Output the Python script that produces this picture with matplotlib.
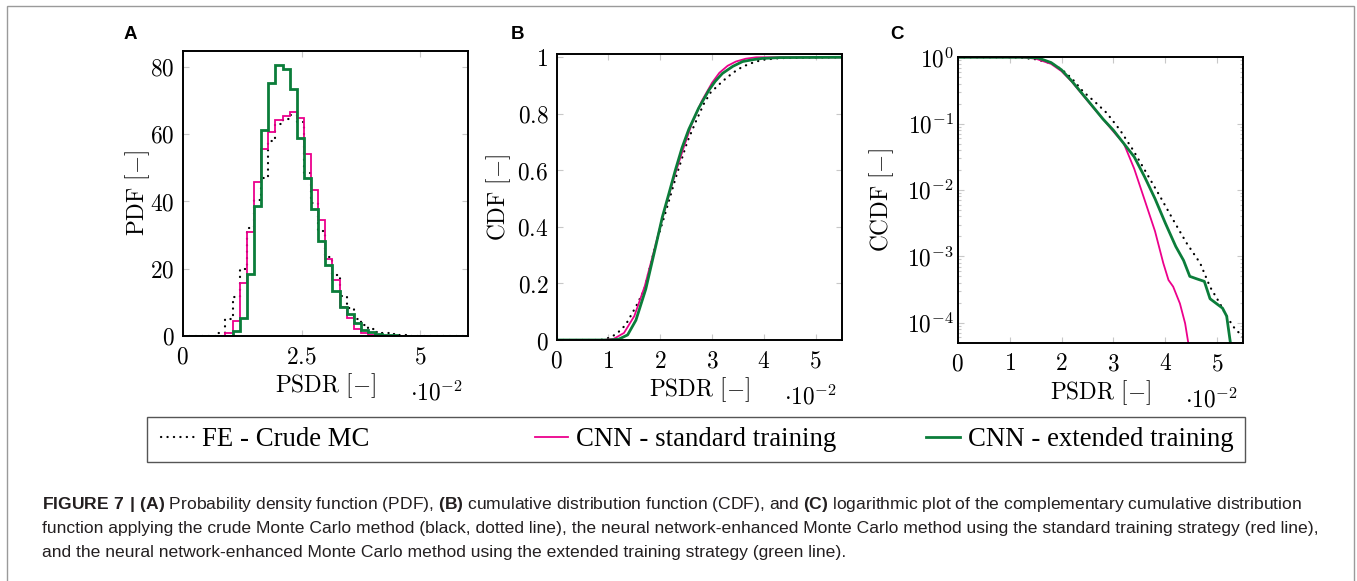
import numpy as np
import matplotlib.pyplot as plt
from matplotlib.patches import Rectangle

plt.rcParams['mathtext.fontset'] = 'cm'
plt.rcParams['mathtext.rm'] = 'Liberation Sans'
plt.rcParams['mathtext.bf'] = 'Liberation Sans:bold'

# ---- data (PSDR in units of 1e-2) ----
# histogram bins 0 .. 6, width 0.15
bin_edges = np.arange(41) * 0.15
pdf_fe = [0, 0, 0, 0, 0, 1.0, 5.0, 11.5, 19.8, 32.0,
          40.5, 47.0, 58.0, 62.8, 64.3, 65.5, 63.5, 48.5, 39.5, 31.3,
          23.6, 18.1, 12.0, 8.2, 5.0, 3.2, 2.0, 1.3, 1.0, 0.6,
          0.4, 0.2, 0.1, 0, 0, 0, 0, 0, 0, 0]
pdf_std = [0, 0, 0, 0, 0, 0, 0.8, 4.5, 15.6, 30.8,
           45.8, 55.5, 60.5, 64.2, 65.4, 66.5, 64.6, 54.0, 43.4, 34.5,
           22.8, 16.6, 8.5, 5.4, 2.0, 0.8, 0.3, 0, 0, 0,
           0, 0, 0, 0, 0, 0, 0, 0, 0, 0]
pdf_ext = [0, 0, 0, 0, 0, 0, 0, 1.5, 5.4, 18.3,
           38.7, 61.2, 75.0, 80.5, 79.3, 73.3, 58.9, 46.8, 37.6, 28.2,
           21.1, 13.4, 8.7, 6.4, 3.8, 1.8, 1.1, 0.7, 0.4, 0.2,
           0, 0, 0, 0, 0, 0, 0, 0, 0, 0]

cdf_fe_x = [0, 0.85, 1.04, 1.17, 1.33, 1.53, 1.69, 1.9, 2.1, 2.3, 2.52, 2.68,
            2.84, 2.97, 3.2, 3.4, 3.59, 3.8, 3.97, 4.3, 4.8, 5.5]
cdf_fe = [0, 0, 0.009, 0.024, 0.053, 0.118, 0.177, 0.33, 0.45, 0.575, 0.70, 0.77,
          0.835, 0.875, 0.915, 0.945, 0.967, 0.982, 0.991, 0.997, 0.999, 1.0]
cdf_std_x = [0, 0.9, 1.1, 1.3, 1.5, 1.7, 1.9, 2.04, 2.17, 2.3, 2.45, 2.6, 2.8,
             3.0, 3.14, 3.3, 3.46, 3.65, 3.85, 5.5]
cdf_std = [0, 0, 0.004, 0.025, 0.085, 0.19, 0.33, 0.43, 0.515, 0.595, 0.68, 0.76,
           0.845, 0.91, 0.945, 0.97, 0.985, 0.995, 1.0, 1.0]
cdf_ext_x = [0, 1.0, 1.2, 1.37, 1.53, 1.72, 1.91, 2.04, 2.17, 2.29, 2.42, 2.55,
             2.74, 2.94, 3.06, 3.2, 3.4, 3.59, 3.8, 3.97, 4.3, 5.5]
cdf_ext = [0, 0, 0.003, 0.018, 0.07, 0.18, 0.33, 0.435, 0.52, 0.6, 0.68, 0.745,
           0.82, 0.884, 0.915, 0.943, 0.968, 0.985, 0.992, 0.996, 0.999, 1.0]

ccdf_fe_x = [0, 1.0, 1.2, 1.5, 1.8, 2.0, 2.2, 2.42, 2.64, 2.87, 3.13, 3.38, 3.64,
             3.9, 4.15, 4.41, 4.67, 4.86, 5.05, 5.18, 5.31, 5.5]
ccdf_fe = [1.0, 1.0, 0.99, 0.933, 0.813, 0.661, 0.479, 0.302, 0.214, 0.145, 0.0794,
           0.0398, 0.0178, 0.00794, 0.00355, 0.00158, 0.00079, 0.000347, 0.000195,
           0.000126, 0.000087, 0.00006]
ccdf_std_x = [0, 1.2, 1.5, 1.8, 2.0, 2.2, 2.4, 2.6, 2.8, 3.0, 3.2, 3.4, 3.6, 3.8,
              3.96, 4.06, 4.15, 4.28, 4.38, 4.45]
ccdf_std = [1.0, 1.0, 0.955, 0.794, 0.617, 0.427, 0.275, 0.178, 0.117, 0.0759,
            0.0501, 0.0209, 0.0071, 0.0024, 0.00079, 0.00044, 0.00035, 0.000195,
            0.000098, 0.000045]
ccdf_ext_x = [0, 1.3, 1.55, 1.8, 2.0, 2.2, 2.4, 2.6, 2.8, 3.0, 3.2, 3.4, 3.6, 3.8,
              4.0, 4.2, 4.35, 4.47, 4.6, 4.75, 4.86, 5.0, 5.1, 5.18, 5.26]
ccdf_ext = [1.0, 1.0, 0.977, 0.832, 0.646, 0.437, 0.282, 0.182, 0.117, 0.0794,
            0.0501, 0.0316, 0.0158, 0.00741, 0.00316, 0.00141, 0.00087, 0.0005,
            0.00046, 0.00042, 0.00023, 0.00019, 0.000166, 0.000126, 0.000045]

labels = ['FE - Crude MC', 'CNN - standard training', 'CNN - extended training']
c_std = '#ec008c'
c_ext = '#0b7d3a'
dot = dict(color='black', lw=1.6, linestyle=(0, (0.1, 2.8)), dash_capstyle='round')
std = dict(color=c_std, lw=1.3)
ext = dict(color=c_ext, lw=2.0)

fs = 16.8

fig = plt.figure(figsize=(13.57, 5.81), dpi=100)

def style(ax):
    for s in ax.spines.values():
        s.set_linewidth(1.4)
    ax.tick_params(which='both', direction='in', color='#c8c8c8', top=True, right=True,
                   labelsize=fs, width=0.8)
    ax.tick_params(which='major', length=4)
    ax.tick_params(which='minor', length=2.5)
    ax.tick_params(axis='x', pad=7)
    ax.tick_params(axis='y', pad=6)
    ax.text(0.89, -0.2, r'$\cdot 10^{-2}$', transform=ax.transAxes, fontsize=fs,
            ha='center', va='center')
    ax.text(0.5, -0.175, r'$\mathrm{PSDR}\ [-]$', transform=ax.transAxes, fontsize=fs,
            ha='center', va='center')

# ---- A: PDF ----
axA = fig.add_axes([0.1346, 0.4217, 0.2103, 0.491])
axA.stairs(pdf_fe, bin_edges, color='black', lw=1.6, linestyle=(0, (0.1, 2.8)),
           capstyle='round')
axA.stairs(pdf_std, bin_edges, **std)
axA.stairs(pdf_ext, bin_edges, **ext)
axA.set_xlim(0, 6)
axA.set_ylim(0, 84.7)
axA.set_xticks([0, 2.5, 5], [r'$0$', r'$2.5$', r'$5$'])
axA.set_yticks([0, 20, 40, 60, 80], [r'$%d$' % v for v in [0, 20, 40, 60, 80]])
style(axA)
axA.text(-0.158, 0.5, r'$\mathrm{PDF}\ [-]$', transform=axA.transAxes, fontsize=fs,
         rotation=90, ha='center', va='center')

# ---- B: CDF ----
axB = fig.add_axes([0.4102, 0.4148, 0.2100, 0.4917])
lfe, = axB.plot(cdf_fe_x, cdf_fe, **dot)
lstd, = axB.plot(cdf_std_x, cdf_std, **std)
lext, = axB.plot(cdf_ext_x, cdf_ext, **ext)
axB.set_xlim(0, 5.5)
axB.set_ylim(0, 1.0105)
axB.set_xticks(range(6), [r'$%d$' % v for v in range(6)])
yt = [0, 0.2, 0.4, 0.6, 0.8, 1]
axB.set_yticks(yt, [r'$0$', r'$0.2$', r'$0.4$', r'$0.6$', r'$0.8$', r'$1$'])
style(axB)
axB.text(-0.205, 0.5, r'$\mathrm{CDF}\ [-]$', transform=axB.transAxes, fontsize=fs,
         rotation=90, ha='center', va='center')

# ---- C: CCDF ----
axC = fig.add_axes([0.7057, 0.4101, 0.2105, 0.4923])
axC.plot(ccdf_fe_x, ccdf_fe, **dot)
axC.plot(ccdf_std_x, ccdf_std, **std)
axC.plot(ccdf_ext_x, ccdf_ext, **ext)
axC.set_yscale('log')
axC.set_xlim(0, 5.5)
axC.set_ylim(5.0e-5, 1.02)
axC.set_xticks(range(6), [r'$%d$' % v for v in range(6)])
axC.set_yticks([1e-4, 1e-3, 1e-2, 1e-1, 1],
               [r'$10^{-4}$', r'$10^{-3}$', r'$10^{-2}$', r'$10^{-1}$', r'$10^{0}$'])
axC.yaxis.set_minor_formatter(plt.NullFormatter())
style(axC)
axC.tick_params(axis='y', pad=3)
axC.text(-0.267, 0.5, r'$\mathrm{CCDF}\ [-]$', transform=axC.transAxes, fontsize=fs,
         rotation=90, ha='center', va='center')

# panel letters
for x, t in [(0.0958, 'A'), (0.381, 'B'), (0.661, 'C')]:
    fig.text(x, 0.94, t, fontsize=13.5, fontweight='bold', family='Liberation Sans',
             ha='center', va='center')

# legend
fig.add_artist(Rectangle((0.1081, 0.2048), 0.8093, 0.0782, transform=fig.transFigure,
                         fill=False, edgecolor='#555555', lw=1.0))
for h, lab, x in [(lfe, labels[0], 0.1184), (lstd, labels[1], 0.3942), (lext, labels[2], 0.6824)]:
    fig.legend([h], [lab], loc='center left', bbox_to_anchor=(x, 0.2427), frameon=False,
               prop={'family': 'Liberation Serif', 'size': 19.3}, handlelength=1.25,
               handletextpad=0.3, borderpad=0, borderaxespad=0)

# outer frame
fig.add_artist(Rectangle((0.0052, -0.05), 0.9926, 1.04, transform=fig.transFigure,
                         fill=False, edgecolor='#9a9a9a', lw=1.0))

# caption
cap = [r'$\mathbf{FIGURE\ 7\ |\ (A)}$ Probability density function (PDF), $\mathbf{(B)}$ '
       r'cumulative distribution function (CDF), and $\mathbf{(C)}$ logarithmic plot of the '
       r'complementary cumulative distribution',
       'function applying the crude Monte Carlo method (black, dotted line), the neural '
       'network-enhanced Monte Carlo method using the standard training strategy (red line),',
       'and the neural network-enhanced Monte Carlo method using the extended training '
       'strategy (green line).']
for i, line in enumerate(cap):
    fig.text(0.031, 1 - (505 + 24 * i) / 581, line, fontsize=12.6, family='Liberation Sans',
             color='#231f20', ha='left', va='center', math_fontfamily='custom')

fig.savefig('out.png', dpi=100)
